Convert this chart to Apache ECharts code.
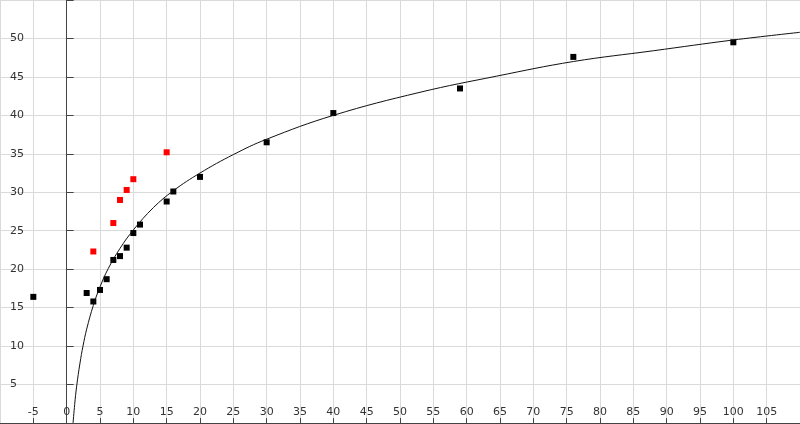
<!DOCTYPE html>
<html>
<head>
<meta charset="utf-8">
<script src="https://cdn.jsdelivr.net/npm/echarts@6/dist/echarts.min.js"></script>
<style>
html,body{margin:0;padding:0;background:#fff;}
#chart{width:800px;height:424px;}
</style>
</head>
<body>
<div id="chart"></div>
<script>
// Black data points [x, y]
const blackPoints = [
  [-5, 16.4], [3, 16.9], [4, 15.8], [5, 17.3], [6, 18.7], [7, 21.2], [8, 21.7],
  [9, 22.8], [10, 24.7], [11, 25.8], [15, 28.8], [16, 30.1], [20, 32.0],
  [30, 36.5], [40, 40.3], [59, 43.5], [76, 47.6], [100, 49.5]
];
// Red data points [x, y]
const redPoints = [
  [4, 22.3], [7, 26.0], [8, 29.0], [9, 30.3], [10, 31.7], [15, 35.2]
];
// Trend curve, points [x, y]
const curvePoints = [
  [0.96, 0], [1.2, 2.4], [1.5, 4.8], [2, 7.8], [2.45, 10], [3, 12.2], [4, 15.3],
  [5, 17.7], [6.25, 20.1], [8, 22.7], [10, 25.1], [13, 28.0], [16, 30.2],
  [20, 32.5], [25, 34.9], [30, 36.9], [40, 40.0], [53, 43.0], [64.5, 45.1],
  [76, 47.0], [88, 48.4], [100, 49.8], [110, 50.8]
];
// Axis ranges / tick step
const xMin = -10, xMax = 110, yMin = 0, yMax = 55, step = 5;

const chart = echarts.init(document.getElementById('chart'));
const gridLine = { show: true, lineStyle: { color: '#dadada', width: 1 } };
const axisLineStyle = { color: '#444', width: 1 };
const labelStyle = { color: '#333', fontSize: 11, fontFamily: 'DejaVu Sans' };

chart.setOption({
  animation: false,
  backgroundColor: '#fff',
  grid: { left: 0, right: 0, top: 0, bottom: 1, containLabel: false },
  xAxis: {
    type: 'value', min: xMin, max: xMax, interval: step,
    axisLine: { show: true, onZero: true, lineStyle: axisLineStyle },
    axisTick: { show: true, inside: true, length: 5, lineStyle: axisLineStyle },
    axisLabel: Object.assign({
      inside: true, margin: 5, showMinLabel: false, showMaxLabel: false,
      formatter: v => (v === xMin || v === xMax) ? '' : String(v)
    }, labelStyle),
    splitLine: gridLine
  },
  yAxis: [{
    type: 'value', min: yMin, max: yMax, interval: step,
    axisLine: { show: true, onZero: true, lineStyle: axisLineStyle },
    axisTick: { show: true, inside: true, length: 7, lineStyle: axisLineStyle },
    axisLabel: Object.assign({
      inside: true, margin: 10,
      formatter: v => (v === yMin || v === yMax) ? '' : String(v)
    }, labelStyle),
    splitLine: gridLine
  }, {
    type: 'value', min: yMin, max: yMax, interval: step, position: 'left',
    axisLine: { show: false, onZero: true },
    axisTick: { show: true, inside: false, length: 7, lineStyle: axisLineStyle },
    axisLabel: { show: false },
    splitLine: { show: false }
  }],
  series: [
    {
      type: 'scatter', data: blackPoints, symbol: 'rect', symbolSize: 6,
      itemStyle: { color: '#000', opacity: 1 }, z: 3
    },
    {
      type: 'scatter', data: redPoints, symbol: 'rect', symbolSize: 6,
      itemStyle: { color: '#ff0000', opacity: 1 }, z: 3
    },
    {
      type: 'line', data: curvePoints, showSymbol: false, smooth: 0.4,
      clip: true,
      lineStyle: { color: '#111', width: 1 }, z: 4
    }
  ]
});
</script>
</body>
</html>
